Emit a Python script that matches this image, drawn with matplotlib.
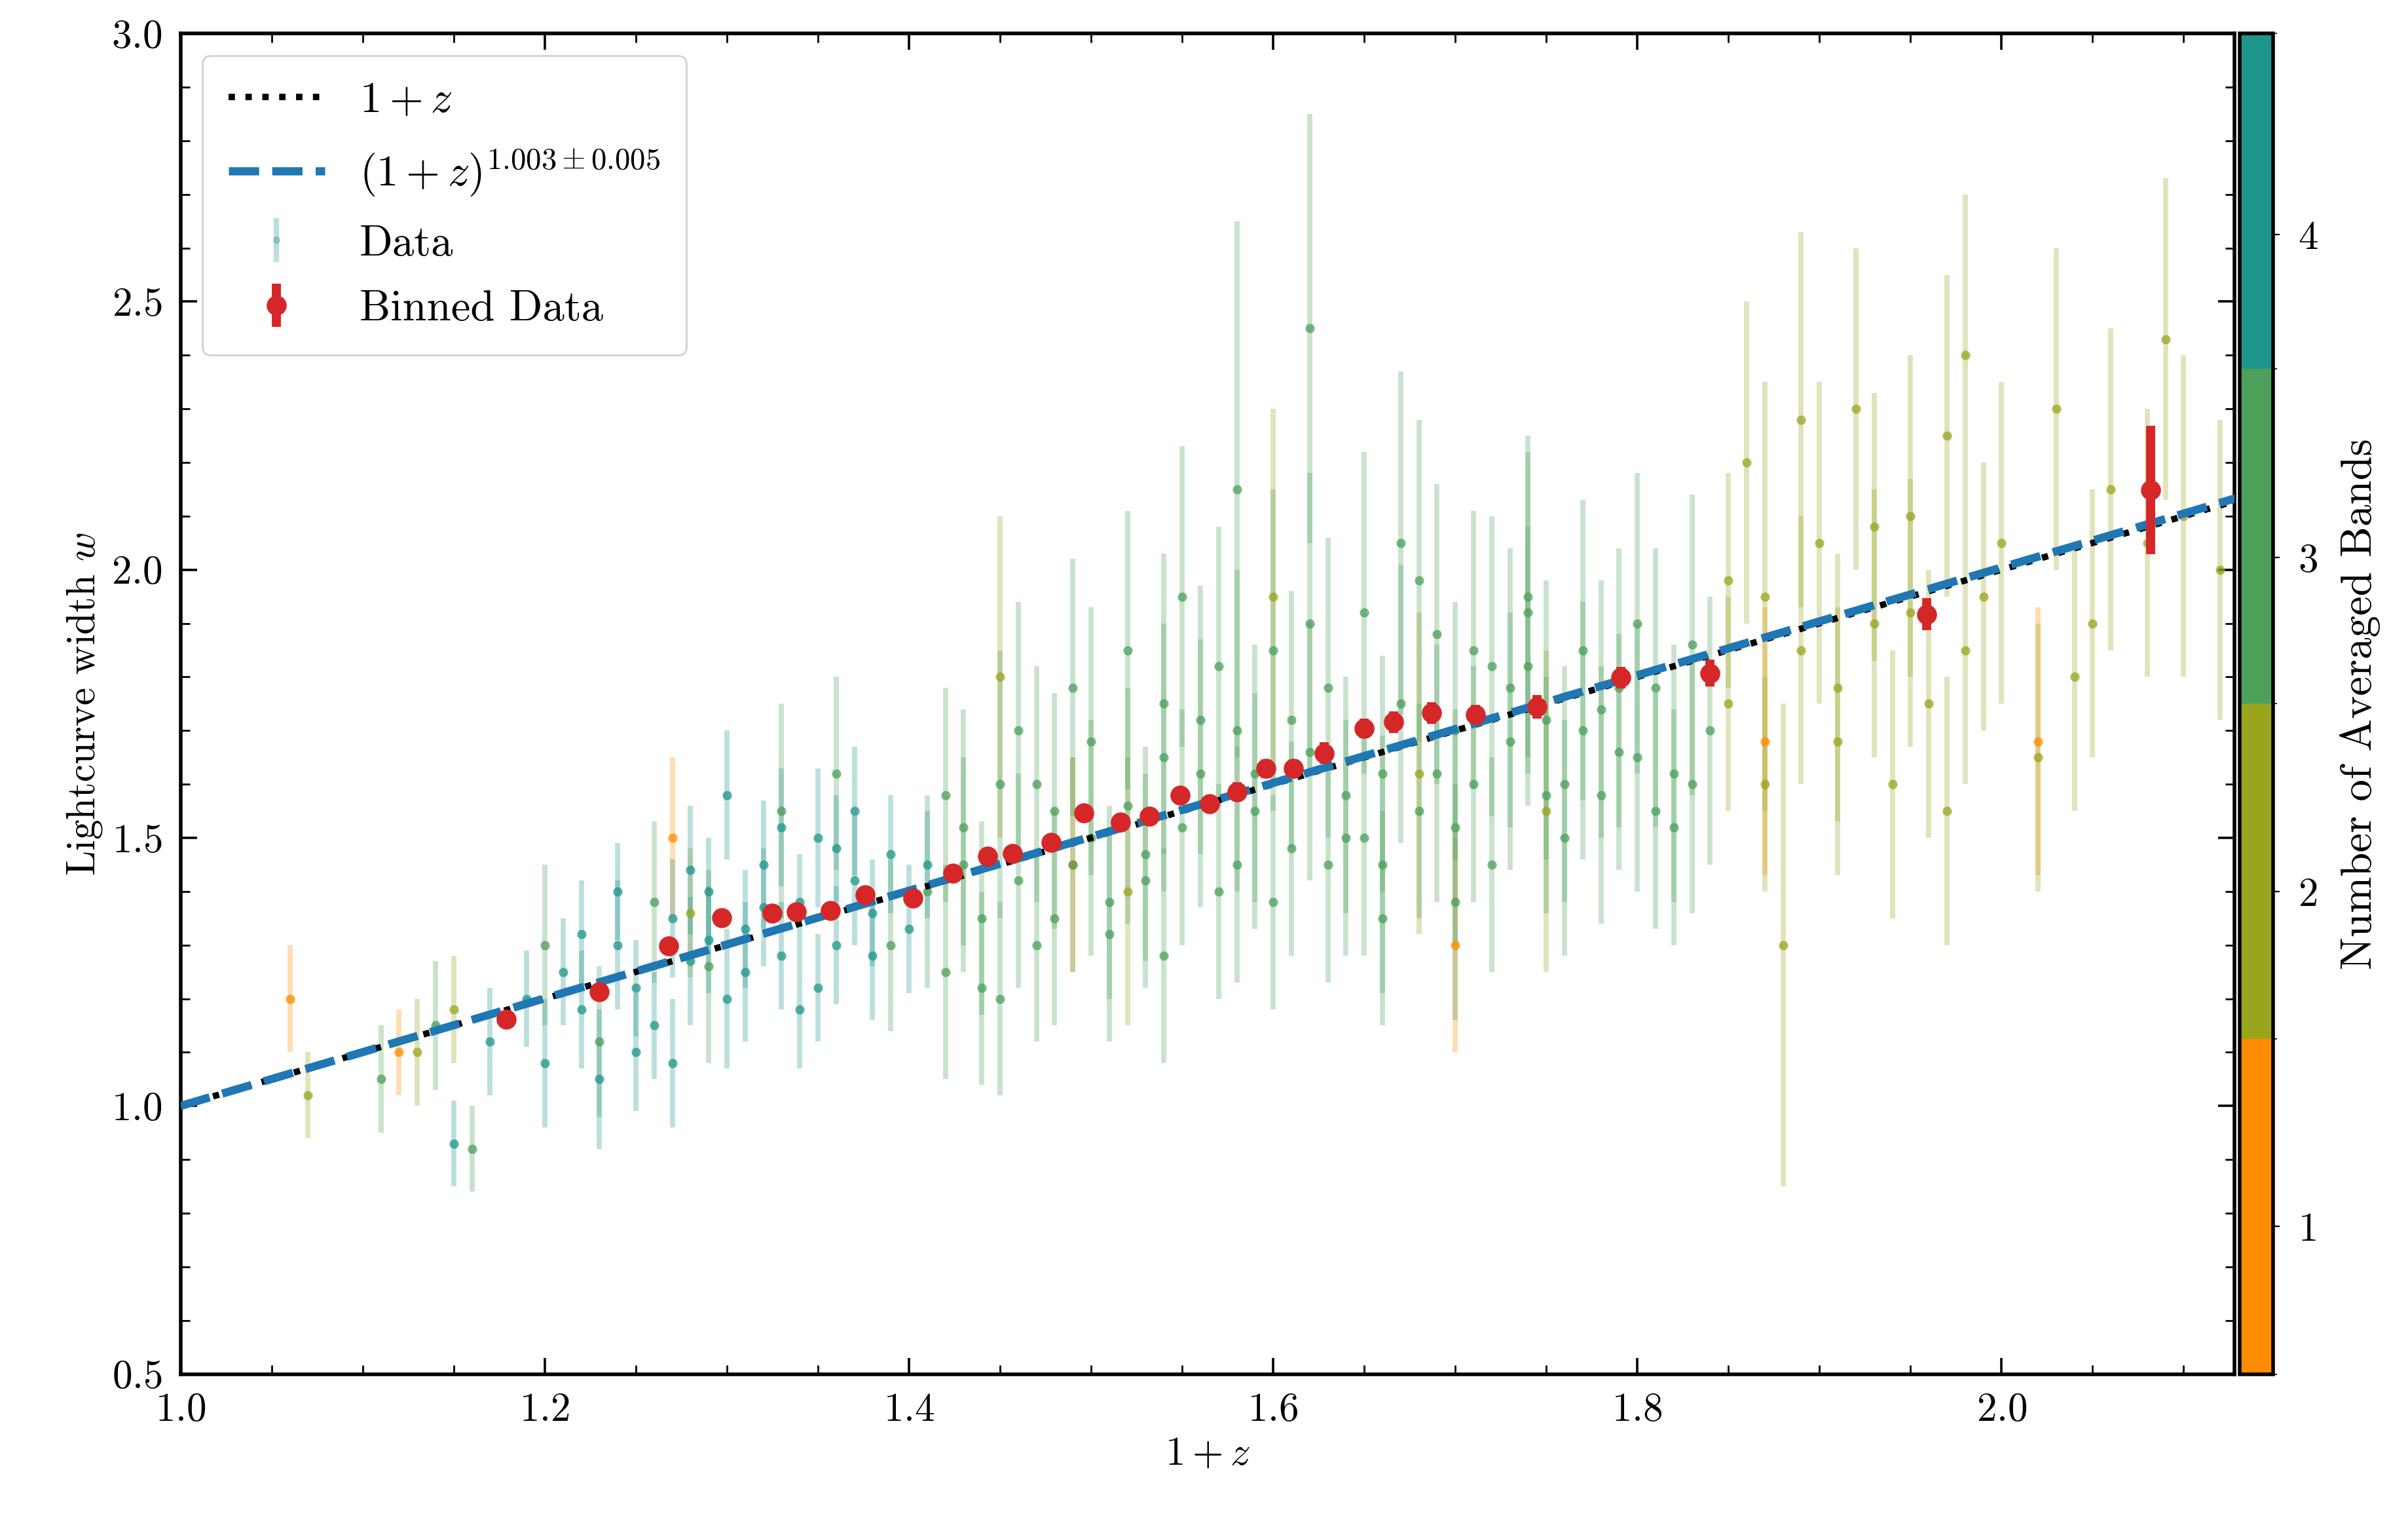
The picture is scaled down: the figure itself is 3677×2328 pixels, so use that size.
import numpy as np
import matplotlib.pyplot as plt
from matplotlib.colors import ListedColormap, BoundaryNorm
from matplotlib.cm import ScalarMappable

plt.rcParams.update({
    "font.family": "serif",
    "font.serif": ["cmr10", "DejaVu Serif"],
    "mathtext.fontset": "cm",
    "axes.formatter.use_mathtext": True,
    "font.size": 22,
})

# individual supernovae, split by number of averaged bands
teal_x = [1.15, 1.17, 1.19, 1.20, 1.21, 1.22, 1.23, 1.24, 1.25, 1.26, 1.27, 1.28, 1.29, 1.30,
          1.31, 1.32, 1.33, 1.34, 1.35, 1.36, 1.37, 1.38, 1.39, 1.40, 1.22, 1.25, 1.28, 1.31,
          1.33, 1.35, 1.37, 1.24, 1.29, 1.34, 1.38, 1.41, 1.27, 1.32, 1.36, 1.30]
teal_y = [0.93, 1.12, 1.20, 1.08, 1.25, 1.18, 1.05, 1.30, 1.22, 1.15, 1.35, 1.27, 1.40, 1.20,
          1.33, 1.45, 1.28, 1.38, 1.50, 1.30, 1.42, 1.36, 1.47, 1.33, 1.32, 1.10, 1.44, 1.25,
          1.52, 1.22, 1.55, 1.40, 1.31, 1.18, 1.28, 1.45, 1.08, 1.37, 1.48, 1.58]
teal_e = [0.08, 0.10, 0.09, 0.12, 0.10, 0.11, 0.13, 0.12, 0.09, 0.10, 0.11, 0.12, 0.10, 0.13,
          0.11, 0.12, 0.10, 0.09, 0.13, 0.11, 0.12, 0.10, 0.11, 0.12, 0.10, 0.11, 0.12, 0.13,
          0.11, 0.10, 0.12, 0.09, 0.10, 0.11, 0.12, 0.10, 0.12, 0.11, 0.10, 0.12]

green_x = [1.11, 1.14, 1.16, 1.20, 1.23, 1.26, 1.29, 1.33, 1.36, 1.39, 1.41, 1.42, 1.43, 1.44,
           1.45, 1.46, 1.47, 1.48, 1.49, 1.50, 1.51, 1.52, 1.53, 1.54, 1.55, 1.56, 1.57, 1.58,
           1.59, 1.60, 1.61, 1.62, 1.63, 1.64, 1.65, 1.66, 1.67, 1.68, 1.69, 1.70, 1.71, 1.72,
           1.73, 1.74, 1.75, 1.76, 1.77, 1.78, 1.79, 1.80, 1.81, 1.82, 1.83, 1.84, 1.42, 1.44,
           1.46, 1.48, 1.50, 1.52, 1.54, 1.56, 1.58, 1.60, 1.62, 1.64, 1.66, 1.68, 1.70, 1.72,
           1.74, 1.76, 1.78, 1.80, 1.82, 1.43, 1.47, 1.51, 1.55, 1.59, 1.63, 1.67, 1.71, 1.75,
           1.79, 1.83, 1.45, 1.53, 1.57, 1.61, 1.65, 1.69, 1.73, 1.77, 1.81, 1.49, 1.58, 1.66,
           1.74, 1.62, 1.54, 1.70]
green_y = [1.05, 1.15, 0.92, 1.30, 1.12, 1.38, 1.26, 1.55, 1.62, 1.30, 1.40, 1.25, 1.52, 1.35,
           1.60, 1.42, 1.30, 1.55, 1.45, 1.68, 1.38, 1.56, 1.47, 1.75, 1.52, 1.62, 1.40, 1.70,
           1.55, 1.85, 1.48, 1.66, 1.78, 1.58, 1.92, 1.62, 1.75, 1.55, 1.88, 1.70, 1.60, 1.82,
           1.68, 1.95, 1.72, 1.60, 1.85, 1.74, 1.66, 1.90, 1.78, 1.62, 1.86, 1.70, 1.58, 1.22,
           1.70, 1.35, 1.50, 1.85, 1.28, 1.72, 1.45, 1.38, 1.90, 1.50, 1.45, 1.98, 1.52, 1.45,
           1.82, 1.50, 1.58, 1.65, 1.52, 1.45, 1.60, 1.32, 1.95, 1.62, 1.45, 2.05, 1.85, 1.58,
           1.78, 1.60, 1.20, 1.42, 1.82, 1.72, 1.50, 1.62, 1.78, 1.70, 1.55, 1.78, 2.15, 1.35,
           1.92, 2.45, 1.65, 1.38]
green_e = [0.10, 0.12, 0.08, 0.15, 0.14, 0.15, 0.18, 0.20, 0.18, 0.16, 0.18, 0.20, 0.22, 0.18,
           0.25, 0.20, 0.18, 0.22, 0.20, 0.25, 0.18, 0.22, 0.20, 0.28, 0.22, 0.25, 0.20, 0.30,
           0.22, 0.30, 0.20, 0.24, 0.28, 0.22, 0.30, 0.22, 0.26, 0.20, 0.28, 0.24, 0.22, 0.28,
           0.24, 0.30, 0.26, 0.22, 0.28, 0.24, 0.22, 0.28, 0.26, 0.24, 0.28, 0.25, 0.20, 0.18,
           0.24, 0.20, 0.22, 0.26, 0.20, 0.25, 0.22, 0.20, 0.28, 0.22, 0.24, 0.30, 0.22, 0.20,
           0.26, 0.22, 0.24, 0.25, 0.22, 0.20, 0.22, 0.20, 0.28, 0.24, 0.22, 0.32, 0.26, 0.22,
           0.26, 0.24, 0.18, 0.20, 0.26, 0.24, 0.22, 0.24, 0.26, 0.24, 0.22, 0.24, 0.50, 0.20,
           0.30, 0.40, 0.25, 0.22]

olive_x = [1.07, 1.13, 1.15, 1.28, 1.45, 1.52, 1.60, 1.68, 1.75, 1.85, 1.86, 1.87, 1.88, 1.89,
           1.90, 1.91, 1.92, 1.93, 1.94, 1.95, 1.96, 1.97, 1.98, 1.99, 2.00, 2.02, 2.03, 2.05,
           2.06, 2.08, 2.10, 2.12, 1.87, 1.89, 1.91, 1.95, 1.98, 2.04, 2.09, 1.85, 1.93, 1.97]
olive_y = [1.02, 1.10, 1.18, 1.36, 1.80, 1.40, 1.95, 1.62, 1.55, 1.75, 2.20, 1.95, 1.30, 1.85,
           2.05, 1.68, 2.30, 1.90, 1.60, 2.10, 1.75, 2.25, 1.85, 1.95, 2.05, 1.65, 2.30, 1.90,
           2.15, 2.05, 2.10, 2.00, 1.60, 2.28, 1.78, 1.92, 2.40, 1.80, 2.43, 1.98, 2.08, 1.55]
olive_e = [0.08, 0.10, 0.10, 0.12, 0.30, 0.25, 0.35, 0.30, 0.30, 0.20, 0.30, 0.40, 0.45, 0.25,
           0.30, 0.25, 0.30, 0.25, 0.25, 0.30, 0.25, 0.30, 0.25, 0.25, 0.30, 0.25, 0.30, 0.25,
           0.30, 0.25, 0.30, 0.28, 0.20, 0.35, 0.25, 0.25, 0.30, 0.25, 0.30, 0.20, 0.25, 0.25]

orange_x = [1.06, 1.12, 1.27, 1.49, 1.70, 1.87, 2.02]
orange_y = [1.20, 1.10, 1.50, 1.45, 1.30, 1.68, 1.68]
orange_e = [0.10, 0.08, 0.15, 0.20, 0.20, 0.25, 0.25]

# binned data
bin_x = [1.179, 1.230, 1.268, 1.297, 1.325, 1.338, 1.357, 1.376, 1.402, 1.424, 1.443, 1.457,
         1.478, 1.496, 1.516, 1.532, 1.549, 1.565, 1.580, 1.596, 1.611, 1.628, 1.650, 1.666,
         1.687, 1.711, 1.745, 1.791, 1.840, 1.959, 2.082]
bin_y = [1.161, 1.213, 1.299, 1.351, 1.359, 1.362, 1.365, 1.394, 1.388, 1.434, 1.466, 1.471,
         1.491, 1.546, 1.529, 1.540, 1.580, 1.563, 1.586, 1.629, 1.629, 1.658, 1.704, 1.716,
         1.733, 1.730, 1.744, 1.799, 1.807, 1.917, 2.149]
bin_e = [0.012, 0.012, 0.012, 0.012, 0.012, 0.012, 0.012, 0.012, 0.012, 0.012, 0.015, 0.015,
         0.015, 0.015, 0.015, 0.015, 0.015, 0.015, 0.018, 0.018, 0.018, 0.020, 0.018, 0.020,
         0.020, 0.018, 0.022, 0.020, 0.025, 0.030, 0.120]

fit_exp = 1.003

band_colors = ["#ff8c00", "#9aa51e", "#4ca05a", "#1f968b"]
band_bounds = [0.55, 1.57, 2.55, 3.58, 4.63]

fig = plt.figure(figsize=(18.385, 11.64), dpi=200)
ax = fig.add_axes([0.075, 0.099, 0.853, 0.879])
cax = fig.add_axes([0.930, 0.099, 0.014, 0.879])

groups = [(orange_x, orange_y, orange_e, band_colors[0]),
          (olive_x, olive_y, olive_e, band_colors[1]),
          (green_x, green_y, green_e, band_colors[2]),
          (teal_x, teal_y, teal_e, band_colors[3])]
for gx, gy, ge, c in groups:
    ax.errorbar(gx, gy, yerr=ge, fmt="none", ecolor=c, elinewidth=2.8, alpha=0.3, zorder=1)
    ax.scatter(gx, gy, s=26, color=c, alpha=0.75, zorder=2, linewidths=0)

xx = np.linspace(1.0, 2.15, 200)
ax.plot(xx, xx, ":", color="black", lw=3.5, label=r"$1+z$", zorder=3)
ax.plot(xx, xx ** fit_exp, "--", color="#1f77b4", lw=4.5,
        label=r"$(1+z)^{1.003\pm0.005}$", zorder=4)
ax.errorbar([], [], yerr=[], fmt=".", color="#1f968b", alpha=0.3,
            elinewidth=3, label="Data")
ax.errorbar(bin_x, bin_y, yerr=bin_e, fmt="o", color="#d62728", ms=10, elinewidth=5,
            zorder=5, label="Binned Data")

ax.set_xlim(1.0, 2.128)
ax.set_ylim(0.5, 3.0)
ax.set_xticks([1.0, 1.2, 1.4, 1.6, 1.8, 2.0])
ax.set_xlabel(r"$1+z$")
ax.set_ylabel(r"Lightcurve width $w$")
ax.minorticks_on()
ax.tick_params(which="both", direction="in", top=True, right=True)
ax.tick_params(which="major", length=9, width=1.3, pad=10)
ax.tick_params(which="minor", length=5, width=1.0)
for s in ax.spines.values():
    s.set_linewidth(2)
ax.legend(loc="upper left", fontsize=24, handlelength=2.2, framealpha=0.9, borderpad=0.6,
          labelspacing=0.6)

sm = ScalarMappable(cmap=ListedColormap(band_colors), norm=BoundaryNorm(band_bounds, 4))
cb = fig.colorbar(sm, cax=cax, ticks=[1, 2, 3, 4])
cb.set_label("Number of Averaged Bands", fontsize=24, family="serif", labelpad=12)
cb.ax.tick_params(labelsize=22, pad=10)
cb.outline.set_linewidth(2)

fig.savefig("out.png", dpi=200)
